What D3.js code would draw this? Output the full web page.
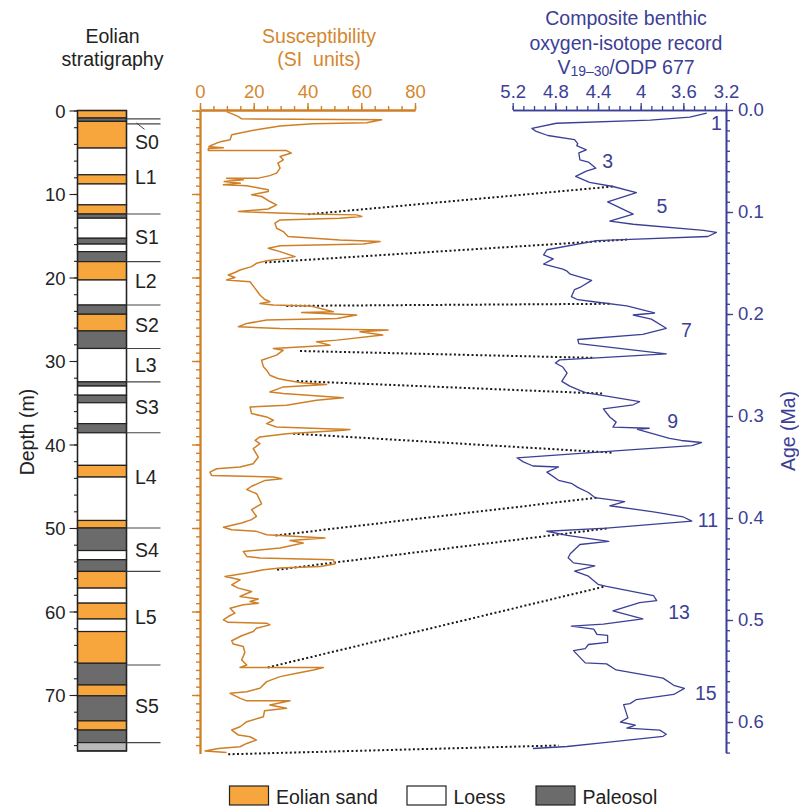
<!DOCTYPE html>
<html><head><meta charset="utf-8">
<script src="https://cdn.jsdelivr.net/npm/d3@7"></script>
<style>
body{margin:0;background:#fff;}
svg{display:block;font-family:"Liberation Sans",Arial,Helvetica,sans-serif;}
</style></head>
<body><svg id="chart" width="799" height="807"></svg>
<script>
// ---------------- DATA ----------------
// Stratigraphic layers (depth in m); type: S = eolian sand, L = loess, P = paleosol, G = base
const layerTops    = [0,0.9,1.3,4.5,7.7,8.8,11.3,12.4,12.9,15.3,16.0,16.9,18.1,20.3,23.3,24.4,26.4,28.5,32.5,33.0,34.1,35.0,37.5,38.6,42.5,43.9,49.1,50.0,52.7,53.8,55.2,57.2,59.0,60.9,62.4,66.2,68.8,70.1,73.1,74.2,75.7];
const layerBottoms = [0.9,1.3,4.5,7.7,8.8,11.3,12.4,12.9,15.3,16.0,16.9,18.1,20.3,23.3,24.4,26.4,28.5,32.5,33.0,34.1,35.0,37.5,38.6,42.5,43.9,49.1,50.0,52.7,53.8,55.2,57.2,59.0,60.9,62.4,66.2,68.8,70.1,73.1,74.2,75.7,76.7];
const layerTypes   = ["S","P","S","L","S","L","S","P","L","P","L","P","S","L","P","S","P","L","P","L","P","L","P","L","S","L","S","P","L","P","S","L","S","L","S","P","S","P","S","P","G"];

const unitNames  = ["S0","L1","S1","L2","S2","L3","S3","L4","S4","L5","S5"];
const unitLabelDepths = [4.6,8.8,16.0,21.3,26.5,31.3,36.3,44.7,53.5,61.5,72.2];
const unitBoundaries = [1.0,1.6,12.4,18.1,23.3,28.5,32.5,38.6,50.0,55.2,66.4,75.7];

const depthTicks = [0,10,20,30,40,50,60,70];

// Magnetic susceptibility (SI units) vs depth (m)
const suscDepth = [0.14,0.46,0.74,1.0,1.1,1.46,1.6,1.86,2.3,2.7,2.9,3.5,3.7,3.9,4.25,4.35,4.45,4.55,4.8,4.8,5.1,5.5,5.9,6.3,6.9,7.5,7.8,8.1,8.1,8.3,8.5,8.7,8.9,9.0,9.3,9.5,9.7,10.1,10.3,10.9,11.3,11.8,12.1,12.2,12.4,12.5,12.7,12.9,13.1,13.5,14.1,14.5,14.9,15.1,15.5,15.7,16.0,16.2,16.5,16.9,17.5,17.8,18.0,18.3,18.7,19.1,19.4,19.7,20.0,20.3,20.5,21.3,22.1,22.6,22.9,23.1,23.3,23.4,23.9,24.1,24.2,24.5,24.9,25.1,25.5,25.9,26.1,26.3,26.5,26.9,27.5,27.7,28.1,28.5,28.7,29.3,29.9,30.7,31.1,31.7,32.1,32.3,32.6,32.8,33.1,33.7,33.9,34.4,34.7,35.3,35.5,36.3,36.7,37.1,37.5,37.9,38.1,38.2,38.3,38.7,39.1,39.5,39.9,40.5,41.5,42.3,42.7,42.9,43.3,43.7,43.9,44.1,44.3,45.0,45.4,45.9,46.7,47.1,47.8,48.6,49.0,49.4,49.9,50.2,50.4,50.8,51.2,51.5,51.8,52.4,52.8,53.4,53.6,53.8,54.3,54.6,54.8,55.0,55.4,55.8,56.2,56.8,57.2,57.6,58.2,58.5,58.8,59.0,59.2,59.6,60.2,60.6,61.0,61.3,61.4,61.6,62.0,62.4,62.9,63.5,63.9,64.2,64.9,65.8,66.4,66.7,66.7,67.0,67.4,67.8,68.4,69.2,69.6,69.8,70.4,70.7,70.7,71.2,71.6,71.9,72.6,73.2,73.8,74.2,74.8,75.0,75.4,75.8,76.2,76.4,76.7,76.9];
const suscValue = [9.9,12.4,14.3,15.5,67.6,62,42,29.8,21,14.9,11.8,11.2,8.1,6.2,3.7,3.3,8.7,3.1,3.1,32.2,34,29.8,31,29,29.8,28.5,26,21.7,9.9,16.1,9,15,8.7,17.4,22.3,25.4,25.4,19.2,23,26,28.5,25.4,14.3,21,39.7,58.3,60.2,52,29.8,27.9,28.5,31,32.2,32.8,52,67,60.8,29.8,25.4,29.8,35.4,29.8,24.8,21,19.2,14.9,13,10.5,13,9.9,18.6,20.5,22.3,24,26,22.3,27.3,41,47,49.6,37.8,58.3,50.9,24.8,17.4,14.3,29.8,70,59.5,68,51,43.4,48.4,27.3,31,28.5,22.9,23.6,24.8,26,29,32.2,37.8,47.1,31,26,31,53.3,43.4,32.2,18.6,19.2,24.8,27.3,24.8,28.5,47.1,55.8,53.3,32.2,22.3,20.5,22.3,19.8,21.7,19.8,14.9,6.2,3.7,4.3,27.3,30.4,24.2,19.2,17.4,21.1,22.3,22.9,19.2,21,19.2,15.5,8.7,11.8,21,24.8,46.5,33.5,38.4,29.8,16.1,17.4,22.3,49.6,50.2,44.7,29.8,23.6,17.4,9.3,14.9,11.8,14.3,19.2,14.9,21.7,18.6,21.7,16.1,11.2,13,10.5,8.7,10.5,24.8,26,21,19.8,15.5,11.8,12.4,16.1,16.7,15.5,17.4,14.9,45.9,42.2,36,29.8,24.8,22.3,17.4,11.2,15,17.4,33.5,26,32.2,24,23.6,17.4,14.9,11.8,14.3,18.6,21,17.4,14.9,6.8,1.9,9.9];
const suscTicks = [0,20,40,60,80];

// Composite benthic δ18O (‰) vs age (Ma)
const isoAge = [0.003,0.007,0.010,0.013,0.018,0.021,0.025,0.029,0.033,0.035,0.039,0.042,0.049,0.051,0.057,0.060,0.065,0.071,0.075,0.081,0.090,0.102,0.109,0.112,0.118,0.120,0.124,0.127,0.128,0.137,0.142,0.146,0.151,0.156,0.158,0.161,0.167,0.174,0.176,0.183,0.186,0.188,0.192,0.199,0.201,0.205,0.214,0.220,0.225,0.229,0.239,0.243,0.245,0.248,0.252,0.258,0.266,0.271,0.277,0.281,0.286,0.289,0.293,0.301,0.306,0.311,0.312,0.313,0.322,0.324,0.326,0.329,0.333,0.341,0.345,0.349,0.350,0.355,0.363,0.366,0.370,0.375,0.380,0.384,0.388,0.394,0.399,0.403,0.410,0.413,0.417,0.423,0.426,0.435,0.439,0.444,0.447,0.452,0.457,0.465,0.467,0.476,0.481,0.483,0.491,0.499,0.504,0.506,0.509,0.514,0.515,0.522,0.524,0.528,0.530,0.542,0.543,0.549,0.557,0.564,0.567,0.573,0.578,0.582,0.583,0.596,0.600,0.603,0.606,0.608,0.612,0.614,0.620,0.624,0.626];
const isoValue = [3.38,3.54,3.91,4.79,5.02,4.98,4.87,4.62,4.59,4.60,4.51,4.58,4.57,4.49,4.42,4.51,4.61,4.48,4.26,4.04,4.31,4.07,4.29,4.07,3.41,3.29,3.37,4.16,4.41,4.88,4.91,4.82,4.91,4.73,4.69,4.66,4.46,4.57,4.62,4.65,4.59,4.44,4.13,3.87,4.07,3.90,3.76,3.98,4.59,4.58,3.76,4.41,4.76,4.80,4.73,4.69,4.74,4.66,4.52,4.29,4.01,4.07,4.35,4.29,4.23,4.26,3.92,4.03,3.73,3.62,3.43,3.52,4.07,5.16,5.10,5.01,4.77,4.88,4.77,4.65,4.59,4.49,4.43,4.15,4.29,3.88,3.60,3.52,4.32,4.88,4.69,4.30,4.57,4.66,4.68,4.63,4.43,4.62,4.49,4.40,4.32,3.88,3.85,4.01,4.26,3.98,4.35,4.65,4.44,4.41,4.31,4.31,4.49,4.52,4.63,4.52,4.32,4.23,3.79,3.69,3.59,3.69,4.04,4.10,4.16,4.12,4.19,4.05,4.13,3.82,3.76,3.79,4.32,4.69,5.01];
const isoTicks = [5.2,4.8,4.4,4.0,3.6,3.2];
const ageTicks = [0,0.1,0.2,0.3,0.4,0.5,0.6];

// Marine isotope stage labels (positioned at age / δ18O)
const stageNames = ["1","3","5","7","9","11","13","15"];
const stageAges  = [0.0196,0.057,0.101,0.223,0.312,0.409,0.499,0.578];
const stageIso   = [3.29,4.31,3.80,3.57,3.70,3.37,3.64,3.39];

// Correlation tie lines: susceptibility (depth, value) -> isotope (age, value)
const tieDepth = [12.43,18.2,23.4,28.8,32.4,38.7,50.9,55.0,66.7,77.1];
const tieSusc  = [40.3,24.2,32.1,37.2,36.0,34.7,28.1,28.7,25.2,10.5];
const tieAge   = [0.075,0.127,0.190,0.243,0.278,0.336,0.380,0.410,0.467,0.623];
const tieIso   = [4.26,4.13,4.29,4.43,4.36,4.26,4.41,4.30,4.33,4.77];

const legendLabels = ["Eolian sand","Loess","Paleosol"];
const legendTypes  = ["S","L","P"];

// ---------------- STYLE ----------------
const ORANGE_T = "#d4872f", ORANGE_L = "#cf7f26", BLUE = "#3b4096", DARK = "#222";
const fills = {S:"#f7a53d", L:"#ffffff", P:"#6b6b6b", G:"#b9b9b9"};
const FS = 18.5, FT = 19.5;

const svg = d3.select("#chart");

// ---------------- SCALES ----------------
const depthY = d3.scaleLinear().domain([0, 77]).range([110.5, 110.5 + 77*8.35]);
const suscX  = d3.scaleLinear().domain([0, 80]).range([200, 415]);
const ageY   = d3.scaleLinear().domain([0, 0.63]).range([110, 110 + 0.63*1020]);
const isoX   = d3.scaleLinear().domain([5.2, 3.2]).range([512.7, 726]);

const colL = 77.5, colR = 126.5;

// ---------------- STRATIGRAPHIC COLUMN ----------------
const g0 = svg.append("g");
g0.selectAll("rect.layer").data(layerTops.map((t,i)=>({t, b:layerBottoms[i], k:layerTypes[i]})))
  .join("rect").attr("class","layer")
  .attr("x", colL).attr("width", colR-colL)
  .attr("y", d=>depthY(d.t)).attr("height", d=>depthY(d.b)-depthY(d.t))
  .attr("fill", d=>fills[d.k]).attr("stroke", DARK).attr("stroke-width", 1.2);
g0.append("rect").attr("x",colL).attr("width",colR-colL)
  .attr("y",depthY(0)).attr("height",depthY(76.7)-depthY(0))
  .attr("fill","none").attr("stroke",DARK).attr("stroke-width",1.4);

g0.selectAll("line.bound").data(unitBoundaries).join("line").attr("class","bound")
  .attr("x1", colR).attr("x2", colR+34)
  .attr("y1", d=>depthY(d)).attr("y2", d=>depthY(d))
  .attr("stroke","#444").attr("stroke-width",1.1);
// leader to S0
g0.append("line").attr("x1",colR+10).attr("x2",colR+18)
  .attr("y1",depthY(1.5)).attr("y2",depthY(2.25)).attr("stroke","#444").attr("stroke-width",1);

g0.selectAll("text.unit").data(unitNames).join("text").attr("class","unit")
  .attr("x", colR+8.5).attr("y",(d,i)=>depthY(unitLabelDepths[i]))
  .attr("font-size",FT).attr("fill",DARK).text(d=>d);

// depth axis
const depthAxisMinor = d3.axisLeft(depthY).tickValues(d3.range(0,77,2)).tickSize(3.5).tickFormat("").tickSizeOuter(0);
const depthAxis = d3.axisLeft(depthY).tickValues(depthTicks).tickSize(8).tickPadding(4).tickSizeOuter(0);
const da1 = svg.append("g").attr("transform",`translate(${colL},0)`).call(depthAxisMinor);
const da2 = svg.append("g").attr("transform",`translate(${colL},0)`).call(depthAxis);
[da1,da2].forEach(a=>{a.select(".domain").remove(); a.selectAll("line").attr("stroke",DARK).attr("stroke-width",1.1);});
da2.selectAll("text").attr("font-size",FS).attr("fill",DARK).attr("font-family","Liberation Sans, Arial, sans-serif").attr("dy","0.36em");

// titles
svg.append("text").attr("x",112.5).attr("y",43).attr("text-anchor","middle").attr("font-size",FT).attr("fill",DARK).text("Eolian");
svg.append("text").attr("x",112.5).attr("y",66).attr("text-anchor","middle").attr("font-size",FT).attr("fill",DARK).text("stratigraphy");
svg.append("text").attr("transform","translate(34,432) rotate(-90)").attr("text-anchor","middle").attr("font-size",FT).attr("fill",DARK).text("Depth (m)");

// ---------------- TIE LINES ----------------
svg.append("g").selectAll("line").data(tieDepth.map((d,i)=>i)).join("line")
  .attr("x1", i=>suscX(tieSusc[i])).attr("y1", i=>depthY(tieDepth[i]))
  .attr("x2", i=>isoX(tieIso[i])).attr("y2", i=>ageY(tieAge[i]))
  .attr("stroke","#1a1a1a").attr("stroke-width",2).attr("stroke-dasharray","2 2.4");

// ---------------- SUSCEPTIBILITY ----------------
const sTop = d3.axisTop(suscX).tickValues(suscTicks).tickSize(7).tickPadding(5).tickSizeOuter(0);
const sTopMinor = d3.axisTop(suscX).tickValues(d3.range(0,81,5)).tickSize(4).tickFormat("").tickSizeOuter(0);
const sLeft = d3.axisLeft(depthY).tickValues(d3.range(0,77,1)).tickSize(4).tickFormat("").tickSizeOuter(0);
const sLeftMaj = d3.axisLeft(depthY).tickValues(depthTicks).tickSize(8).tickFormat("").tickSizeOuter(0);
const sa = [
  svg.append("g").attr("transform","translate(0,110)").call(sTopMinor),
  svg.append("g").attr("transform","translate(0,110)").call(sTop),
  svg.append("g").attr("transform","translate(200,0)").call(sLeft),
  svg.append("g").attr("transform","translate(200,0)").call(sLeftMaj)
];
sa.forEach(a=>{a.selectAll("line").attr("stroke",ORANGE_L).attr("stroke-width",1.4); a.select(".domain").attr("stroke",ORANGE_L).attr("stroke-width",1.8);});
sa[1].selectAll("text").attr("font-size",FS).attr("fill",ORANGE_T).attr("font-family","Liberation Sans, Arial, sans-serif");

const suscLine = d3.line().x(d=>suscX(d[1])).y(d=>depthY(d[0]));
svg.append("path").datum(suscDepth.map((d,i)=>[d,suscValue[i]]))
  .attr("d",suscLine).attr("fill","none").attr("stroke",ORANGE_L).attr("stroke-width",1.5).attr("stroke-linejoin","round");

svg.append("text").attr("x",319).attr("y",43).attr("text-anchor","middle").attr("font-size",FT).attr("fill",ORANGE_T).text("Susceptibility");
svg.append("text").attr("x",319).attr("y",66).attr("text-anchor","middle").attr("font-size",FT).attr("fill",ORANGE_T).attr("xml:space","preserve").style("white-space","pre").text("(SI  units)");

// ---------------- ISOTOPE ----------------
const fmtIso = d => (d===4 ? "4" : d3.format(".1f")(d));
const iTop = d3.axisTop(isoX).tickValues(isoTicks).tickFormat(fmtIso).tickSize(7).tickPadding(5).tickSizeOuter(0);
const iTopMinor = d3.axisTop(isoX).tickValues(d3.range(32,53,1).map(v=>v/10)).tickSize(4).tickFormat("").tickSizeOuter(0);
const iRight = d3.axisRight(ageY).tickValues(ageTicks).tickFormat(d3.format(".1f")).tickSize(7).tickPadding(5).tickSizeOuter(0);
const iRightMinor = d3.axisRight(ageY).tickValues(d3.range(0,64,1).map(v=>v/100)).tickSize(4).tickFormat("").tickSizeOuter(0);
const ia = [
  svg.append("g").attr("transform","translate(0,110)").call(iTopMinor),
  svg.append("g").attr("transform","translate(0,110)").call(iTop),
  svg.append("g").attr("transform","translate(726,0)").call(iRightMinor),
  svg.append("g").attr("transform","translate(726,0)").call(iRight)
];
ia.forEach(a=>{a.selectAll("line").attr("stroke",BLUE).attr("stroke-width",1.3); a.select(".domain").attr("stroke",BLUE).attr("stroke-width",1.6);});
[ia[1],ia[3]].forEach(a=>a.selectAll("text").attr("font-size",FS).attr("fill",BLUE).attr("font-family","Liberation Sans, Arial, sans-serif"));

const isoLine = d3.line().x(d=>isoX(d[1])).y(d=>ageY(d[0]));
svg.append("path").datum(isoAge.map((a,i)=>[a,isoValue[i]]))
  .attr("d",isoLine).attr("fill","none").attr("stroke",BLUE).attr("stroke-width",1.3).attr("stroke-linejoin","round");

svg.selectAll("text.stage").data(stageNames).join("text").attr("class","stage")
  .attr("x",(d,i)=>isoX(stageIso[i])).attr("y",(d,i)=>ageY(stageAges[i]))
  .attr("text-anchor","middle").attr("font-size",FT).attr("fill",BLUE).text(d=>d);

svg.append("text").attr("x",626).attr("y",25).attr("text-anchor","middle").attr("font-size",FT).attr("fill",BLUE).text("Composite benthic");
svg.append("text").attr("x",626).attr("y",50).attr("text-anchor","middle").attr("font-size",FT).attr("fill",BLUE).text("oxygen-isotope record");
const t3 = svg.append("text").attr("x",626).attr("y",74).attr("text-anchor","middle").attr("font-size",FT).attr("fill",BLUE);
t3.append("tspan").text("V");
t3.append("tspan").attr("font-size",14).attr("dy",2).text("19–30");
t3.append("tspan").attr("dy",-2).text("/ODP 677");
svg.append("text").attr("transform","translate(795,431) rotate(-90)").attr("text-anchor","middle").attr("font-size",FT).attr("fill",BLUE).text("Age (Ma)");

// ---------------- LEGEND ----------------
const legX = [229.5, 407, 536];
const lg = svg.append("g");
lg.selectAll("rect").data(legendTypes).join("rect")
  .attr("x",(d,i)=>legX[i]).attr("y",786).attr("width",39).attr("height",19)
  .attr("fill",d=>fills[d]).attr("stroke",DARK).attr("stroke-width",1.2);
lg.selectAll("text").data(legendLabels).join("text")
  .attr("x",(d,i)=>legX[i]+46.5).attr("y",803.5).attr("font-size",FT).attr("fill",DARK).text(d=>d);
</script></body></html>
